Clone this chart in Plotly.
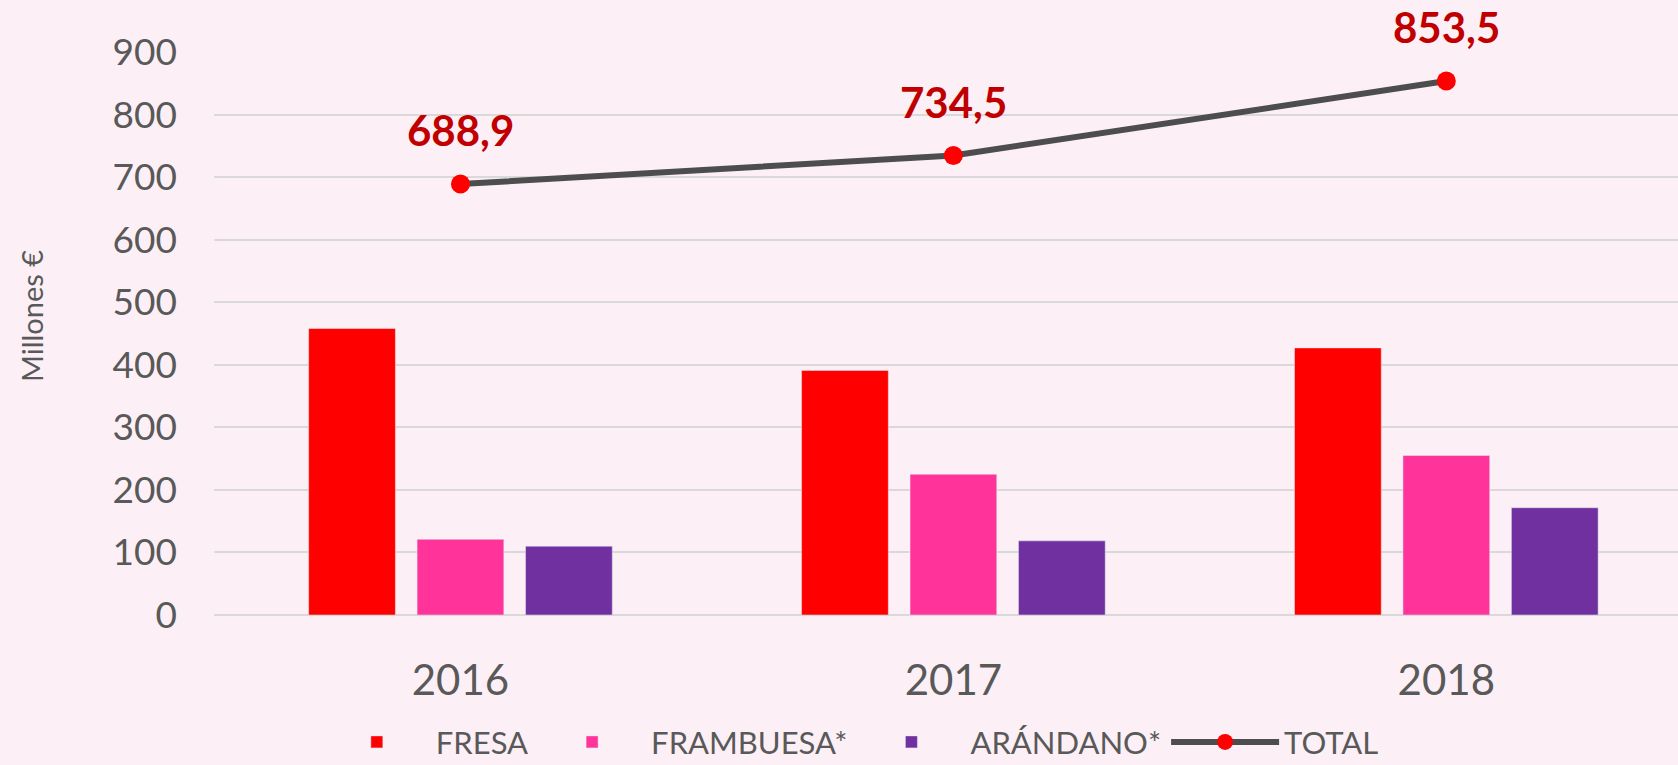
import plotly.graph_objects as go

years = ["2016", "2017", "2018"]
fresa = [458, 391, 427]
frambuesa = [121, 225, 255]
arandano = [110, 118.5, 171.5]
total = [688.9, 734.5, 853.5]
total_labels = ["688,9", "734,5", "853,5"]
y_ticks = [0, 100, 200, 300, 400, 500, 600, 700, 800, 900]

FONT = "Lato"
GRAY = "#595959"

fig = go.Figure()
fig.add_trace(go.Bar(x=years, y=fresa, name="FRESA", marker_color="#FF0000"))
fig.add_trace(go.Bar(x=years, y=frambuesa, name="FRAMBUESA*", marker_color="#FF3399"))
fig.add_trace(go.Bar(x=years, y=arandano, name="ARÁNDANO*", marker_color="#7030A0"))
fig.add_trace(go.Scatter(x=years, y=total, name="TOTAL", mode="lines+markers",
                         line=dict(color="#4D4D4D", width=6),
                         marker=dict(color="#FF0000", size=19)))

for i, (yv, lab) in enumerate(zip(total, total_labels)):
    fig.add_annotation(x=i, y=yv, xref="x", yref="y", text="<b>" + lab + "</b>",
                       showarrow=False, yshift=54,
                       font=dict(family=FONT, size=42, color="#C00000"))

fig.add_annotation(text="Millones €", textangle=-90, xref="paper", yref="paper",
                   x=(31 - 214) / 1464, y=(615 - 316) / 563, showarrow=False,
                   xanchor="center", yanchor="middle",
                   font=dict(family=FONT, size=29, color=GRAY))

fig.update_layout(
    width=1678, height=765,
    margin=dict(l=214, r=0, t=52, b=150, autoexpand=False),
    paper_bgcolor="#FCF0F6", plot_bgcolor="#FCF0F6",
    barmode="group", bargap=0.34, bargroupgap=0.2,
    font=dict(family=FONT, color=GRAY),
    showlegend=True,
    legend=dict(orientation="h", x=0.435, xanchor="center", y=-0.226, yanchor="middle",
                font=dict(family=FONT, size=31, color=GRAY),
                bgcolor="rgba(0,0,0,0)", itemwidth=108, traceorder="normal"),
)
fig.update_xaxes(type="category", range=[-0.5, 2.47], showgrid=False, showline=False,
                 ticks="", tickfont=dict(family=FONT, size=42, color=GRAY),
                 ticklabelstandoff=37, automargin=False)
fig.update_yaxes(range=[0, 900], tickvals=y_ticks, showgrid=True, gridcolor="#D9D9D9",
                 gridwidth=2, zeroline=True, zerolinecolor="#D9D9D9", zerolinewidth=2,
                 showline=False, ticks="", tickfont=dict(family=FONT, size=37, color=GRAY),
                 ticklabelstandoff=36, automargin=False)

fig.write_html("out.html", config={"displayModeBar": False},
               post_script="document.body.style.margin='0';document.body.style.overflow='hidden';")
